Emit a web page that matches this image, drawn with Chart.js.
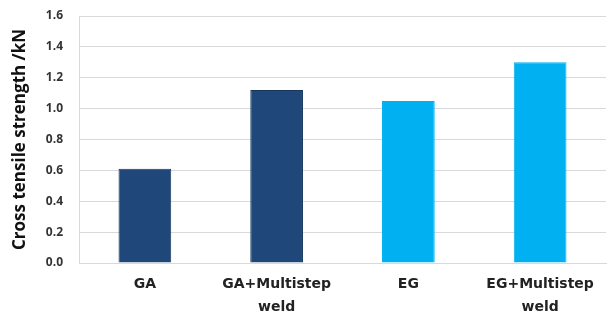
<!DOCTYPE html>
<html>
<head>
<meta charset="utf-8">
<script src="https://cdn.jsdelivr.net/npm/chart.js@4"></script>
<style>
  html, body { margin: 0; padding: 0; background: #ffffff; }
  #wrap { width: 608px; height: 315px; }
</style>
</head>
<body>
<div id="wrap"><canvas id="strengthChart" width="608" height="315"></canvas></div>
<script>
// Cross tensile strength by coating / weld condition
const categories = [['GA'], ['GA+Multistep', 'weld'], ['EG'], ['EG+Multistep', 'weld']];
const strengthValues = [0.61, 1.12, 1.05, 1.30];
const barColors = ['#1F4779', '#1F4779', '#00B0F0', '#00B0F0'];
const barBorders = ['#17375E', '#17375E', '#00B0F0', '#00B0F0'];
const yTicks = [0, 0.2, 0.4, 0.6, 0.8, 1.0, 1.2, 1.4, 1.6];

const fontFamily = '"Open Sans", "Noto Sans", sans-serif';

const ctx = document.getElementById('strengthChart');
new Chart(ctx, {
    type: 'bar',
    data: {
        labels: categories,
        datasets: [{
            data: strengthValues,
            backgroundColor: barColors,
            borderColor: barBorders,
            borderWidth: 1,
            barPercentage: 0.4,
            categoryPercentage: 1.0
        }]
    },
    options: {
        responsive: false,
        animation: false,
        layout: { padding: { top: 16, right: 2, left: 10, bottom: 0 } },
        plugins: {
            legend: { display: false },
            tooltip: { enabled: false }
        },
        scales: {
            x: {
                grid: { display: false, drawTicks: false },
                border: { color: '#D9D9D9' },
                ticks: {
                    color: '#222222',
                    padding: 10,
                    font: { family: '"DejaVu Sans", sans-serif', size: 14, weight: 'bold', lineHeight: 1.65 }
                },
                afterFit: function(scale) {
                    scale.height = 52;
                    scale.paddingTop = 0;
                    scale.paddingBottom = 0;
                }
            },
            y: {
                min: 0,
                max: 1.6,
                afterBuildTicks: function(scale) {
                    scale.ticks = yTicks.map(v => ({ value: v }));
                },
                grid: { color: '#D9D9D9', drawTicks: false },
                border: { color: '#D9D9D9' },
                ticks: {
                    color: '#333333',
                    padding: 16,
                    font: { family: fontFamily, size: 12, weight: 'bold' },
                    callback: function(value) { return value.toFixed(1); }
                },
                title: {
                    display: true,
                    text: 'Cross tensile strength /kN',
                    color: '#111111',
                    padding: { top: 0, bottom: 6 },
                    font: { family: fontFamily, size: 17, weight: 'bold' }
                },
                afterFit: function(scale) {
                    scale.width = 69;
                    scale.paddingTop = 0;
                    scale.paddingBottom = 0;
                }
            }
        }
    }
});
</script>
</body>
</html>
